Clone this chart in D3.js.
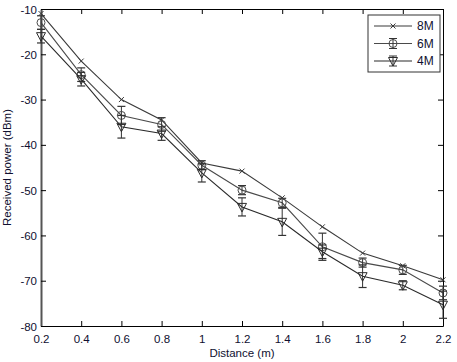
<!DOCTYPE html>
<html>
<head>
<meta charset="utf-8">
<script src="https://d3js.org/d3.v7.min.js"></script>
<style>
  body { margin: 0; background: #fff; }
  text { font-family: "Liberation Sans", Arial, sans-serif; }
</style>
</head>
<body>
<div id="chart"></div>
<script>
// data
var distances = [0.2, 0.4, 0.6, 0.8, 1.0, 1.2, 1.4, 1.6, 1.8, 2.0, 2.2];
var power8M = [-11, -21.5, -30, -34.5, -44, -45.8, -51.7, -58.1, -63.9, -66.7, -69.8];
var power6M = [-13, -24.5, -33.5, -35.5, -44.5, -50, -52.8, -62.5, -66, -67.6, -72.7];
var err6M   = [1.5, 1.5, 2, 1.5, 1, 1, 1, 3, 1, 1, 1.5];
var power4M = [-16, -25.5, -36, -37.5, -46.2, -53.7, -57, -63.6, -69, -71, -75.3];
var err4M   = [1.5, 1.5, 2.5, 1.5, 2, 2, 3, 1.5, 2.5, 1, 3];
var xTicks = [0.2, 0.4, 0.6, 0.8, 1, 1.2, 1.4, 1.6, 1.8, 2, 2.2];
var yTicks = [-10, -20, -30, -40, -50, -60, -70, -80];
var seriesNames = ["8M", "6M", "4M"];

var attrs = {
    width: 457,
    height: 362,
    margin: { top: 9, right: 14, bottom: 36, left: 41 }
};
var _drawWidth = attrs.width - attrs.margin.left - attrs.margin.right;
var _drawHeight = attrs.height - attrs.margin.top - attrs.margin.bottom;

var series = [
    { name: seriesNames[0], vals: power8M, err: null, marker: "x", color: "#3a3a3a" },
    { name: seriesNames[1], vals: power6M, err: err6M, marker: "o", color: "#4a4a4a" },
    { name: seriesNames[2], vals: power4M, err: err4M, marker: "v", color: "#2a2a2a" }
];

var svg = d3.select("#chart").append("svg")
    .attr("width", attrs.width)
    .attr("height", attrs.height);

var g = svg.append("g")
    .attr("transform", "translate(" + attrs.margin.left + "," + attrs.margin.top + ")");

var x = d3.scaleLinear().domain([0.2, 2.2]).range([0, _drawWidth]);
var y = d3.scaleLinear().domain([-80, -10]).range([_drawHeight, 0]);

// axes, ticks inward like matlab; plain hyphen for the minus sign
var fmt = function(d) { return String(+d.toFixed(1)); };
var xAxis = g.append("g").attr("transform", "translate(0," + _drawHeight + ")")
    .call(d3.axisBottom(x).tickValues(xTicks).tickSizeInner(-5).tickSizeOuter(0).tickPadding(10).tickFormat(fmt));
var xTop = g.append("g")
    .call(d3.axisTop(x).tickValues(xTicks).tickSizeInner(-5).tickSizeOuter(0).tickFormat(""));
var yAxis = g.append("g")
    .call(d3.axisLeft(y).tickValues(yTicks).tickSizeInner(-5).tickSizeOuter(0).tickPadding(4).tickFormat(fmt));
var yRight = g.append("g").attr("transform", "translate(" + _drawWidth + ",0)")
    .call(d3.axisRight(y).tickValues(yTicks).tickSizeInner(-5).tickSizeOuter(0).tickFormat(""));

[xAxis, xTop, yAxis, yRight].forEach(function(a) {
    a.select(".domain").attr("stroke", "#000");
    a.selectAll(".tick line").attr("stroke", "#000");
    a.selectAll("text").attr("font-size", 11.5).attr("fill", "#101030")
        .style("font-family", "'Liberation Sans', Arial, sans-serif");
});
yAxis.select(".domain").attr("stroke", "#555").attr("stroke-width", 2);
yAxis.selectAll(".tick text").attr("dy", "0.35em");
xAxis.selectAll(".tick text").attr("dy", "0.6em");

// lines
var line = d3.line()
    .x(function(d, i) { return x(distances[i]); })
    .y(function(d) { return y(d); });

series.forEach(function(s) {
    var sg = g.append("g").attr("class", "series");
    sg.append("path")
        .attr("d", line(s.vals))
        .attr("fill", "none")
        .attr("stroke", s.color)
        .attr("stroke-width", 1.1);

    if (s.err) {
        s.vals.forEach(function(v, i) {
            var cx = x(distances[i]);
            var y1 = y(v + s.err[i]), y2 = y(v - s.err[i]);
            sg.append("line").attr("x1", cx).attr("x2", cx).attr("y1", y1).attr("y2", y2)
                .attr("stroke", "#333").attr("stroke-width", 1);
            [y1, y2].forEach(function(yy) {
                sg.append("line").attr("x1", cx - 4).attr("x2", cx + 4).attr("y1", yy).attr("y2", yy)
                    .attr("stroke", "#333").attr("stroke-width", 1.2);
            });
        });
    }

    s.vals.forEach(function(v, i) {
        drawMarker(sg, s.marker, x(distances[i]), y(v), s.color);
    });
});

function drawMarker(sel, type, cx, cy, color) {
    if (type === "x") {
        sel.append("path")
            .attr("d", "M" + (cx - 2.5) + "," + (cy - 2.5) + "L" + (cx + 2.5) + "," + (cy + 2.5) +
                       "M" + (cx - 2.5) + "," + (cy + 2.5) + "L" + (cx + 2.5) + "," + (cy - 2.5))
            .attr("stroke", color).attr("stroke-width", 1);
    } else if (type === "o") {
        sel.append("circle").attr("cx", cx).attr("cy", cy).attr("r", 4)
            .attr("fill", "none").attr("stroke", color).attr("stroke-width", 1);
    } else {
        sel.append("path")
            .attr("d", "M" + (cx - 4.5) + "," + (cy - 3.5) + "L" + (cx + 4.5) + "," + (cy - 3.5) +
                       "L" + cx + "," + (cy + 5) + "Z")
            .attr("fill", "none").attr("stroke", color).attr("stroke-width", 1);
    }
}

// legend
var legend = g.append("g").attr("transform", "translate(" + (368 - attrs.margin.left) + "," + (15 - attrs.margin.top) + ")");
legend.append("rect").attr("width", 72).attr("height", 57)
    .attr("fill", "#fff").attr("stroke", "#333").attr("stroke-width", 1);
series.forEach(function(s, i) {
    var ly = 11 + i * 17.5;
    var lg = legend.append("g");
    lg.append("line").attr("x1", 6).attr("x2", 44).attr("y1", ly).attr("y2", ly)
        .attr("stroke", s.color).attr("stroke-width", 1.1);
    if (s.err) {
        lg.append("line").attr("x1", 25).attr("x2", 25).attr("y1", ly - 5).attr("y2", ly + 5).attr("stroke", "#333");
        [ly - 5, ly + 5].forEach(function(yy) {
            lg.append("line").attr("x1", 21).attr("x2", 29).attr("y1", yy).attr("y2", yy).attr("stroke", "#333");
        });
    }
    drawMarker(lg, s.marker, 25, ly, s.color);
    lg.append("text").attr("x", 49).attr("y", ly).attr("dy", "0.35em")
        .attr("font-size", 12).attr("fill", "#101030").text(s.name);
});

// axis labels
svg.append("text")
    .attr("x", attrs.margin.left + _drawWidth / 2)
    .attr("y", 357)
    .attr("text-anchor", "middle")
    .attr("font-size", 11.5)
    .attr("fill", "#101030")
    .text("Distance (m)");
svg.append("text")
    .attr("transform", "translate(11," + (attrs.margin.top + _drawHeight / 2) + ") rotate(-90)")
    .attr("text-anchor", "middle")
    .attr("font-size", 11.5)
    .attr("fill", "#101030")
    .text("Received power (dBm)");
</script>
</body>
</html>
